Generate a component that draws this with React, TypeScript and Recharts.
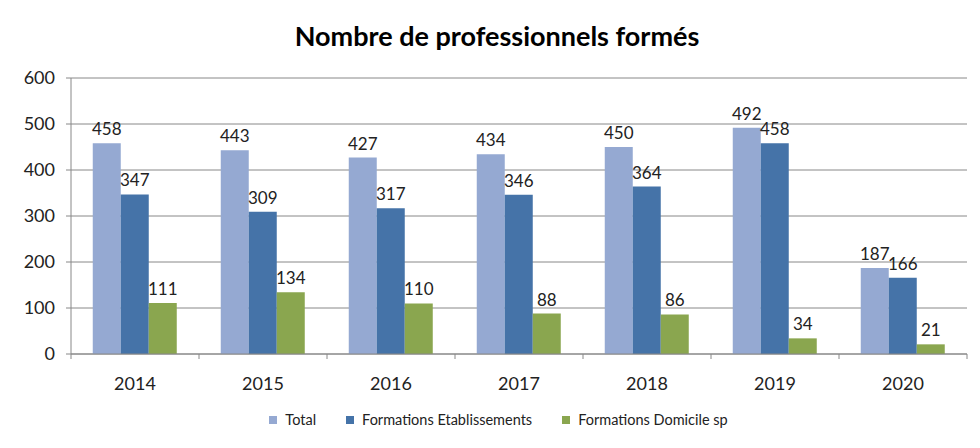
import React from "react";
import { BarChart, Bar, XAxis, YAxis, CartesianGrid, LabelList, Legend } from "recharts";

const years = ["2014", "2015", "2016", "2017", "2018", "2019", "2020"];
const total = [458, 443, 427, 434, 450, 492, 187];
const etablissements = [347, 309, 317, 346, 364, 458, 166];
const domicile = [111, 134, 110, 88, 86, 34, 21];
const yTicks = [0, 100, 200, 300, 400, 500, 600];

const SERIES = [
  { key: "total", name: "Total", color: "#95A9D2" },
  { key: "etab", name: "Formations Etablissements", color: "#4573A8" },
  { key: "dom", name: "Formations Domicile sp", color: "#8AA64F" },
];

const data = years.map((y, i) => ({
  year: y,
  total: total[i],
  etab: etablissements[i],
  dom: domicile[i],
}));

const FONT = "Lato, 'Noto Sans', sans-serif";
const BAND = (980 - 71 - 13) / years.length;

const XTick = (props: any) => {
  const { x, y, payload, index } = props;
  return (
    <g>
      <line x1={x - BAND / 2} x2={x - BAND / 2} y1={y - 8} y2={y - 3} stroke="#888" />
      {index === years.length - 1 && (
        <line x1={x + BAND / 2} x2={x + BAND / 2} y1={y - 8} y2={y - 3} stroke="#888" />
      )}
      <text x={x} y={y + 28} textAnchor="middle" fill="#222" fontSize={18} fontFamily={FONT}>
        {payload.value}
      </text>
    </g>
  );
};

const LegendContent = () => (
  <div style={{ display: "flex", justifyContent: "center", fontFamily: FONT, fontSize: 14.5, color: "#222", paddingLeft: 60 }}>
    {SERIES.map((s) => (
      <div key={s.key} style={{ display: "flex", alignItems: "center", marginRight: 30 }}>
        <span style={{ width: 8, height: 8, background: s.color, display: "inline-block", marginRight: 8 }} />
        {s.name}
      </div>
    ))}
  </div>
);

export default function App() {
  return (
    <div style={{ position: "relative", margin: -8, width: 980, height: 448, overflow: "hidden", background: "#fff" }}>
      <div style={{ position: "absolute", left: 6, top: 2, width: 990, height: 470, border: "2px solid #8a8a8a" }} />
      <div style={{ position: "absolute", top: 19, left: 0, width: 994, textAlign: "center", fontFamily: FONT, fontWeight: 700, fontSize: 27, color: "#000" }}>
        Nombre de professionnels formés
      </div>
      <div style={{ position: "absolute", left: 0, top: 0 }}>
        <BarChart width={980} height={448} data={data} margin={{ top: 78, right: 13, left: 0, bottom: 0 }} barCategoryGap="17%" barGap={0}>
          <CartesianGrid vertical={false} stroke="#888" />
          <XAxis dataKey="year" height={40} axisLine={{ stroke: "#888" }} tickLine={false} tick={<XTick />} interval={0} />
          <YAxis
            width={71}
            domain={[0, 600]}
            ticks={yTicks}
            axisLine={{ stroke: "#888" }}
            tickLine={{ stroke: "#888" }}
            tickSize={5}
            tick={{ fill: "#222", fontSize: 18, fontFamily: FONT, dx: -9 }}
          />
          <Legend height={54} verticalAlign="bottom" content={<LegendContent />} wrapperStyle={{ top: 411 }} />
          {SERIES.map((s) => (
            <Bar key={s.key} dataKey={s.key} name={s.name} fill={s.color} isAnimationActive={false}>
              <LabelList dataKey={s.key} position="top" offset={8} fill="#222" fontSize={17} fontFamily={FONT} />
            </Bar>
          ))}
        </BarChart>
      </div>
    </div>
  );
}
